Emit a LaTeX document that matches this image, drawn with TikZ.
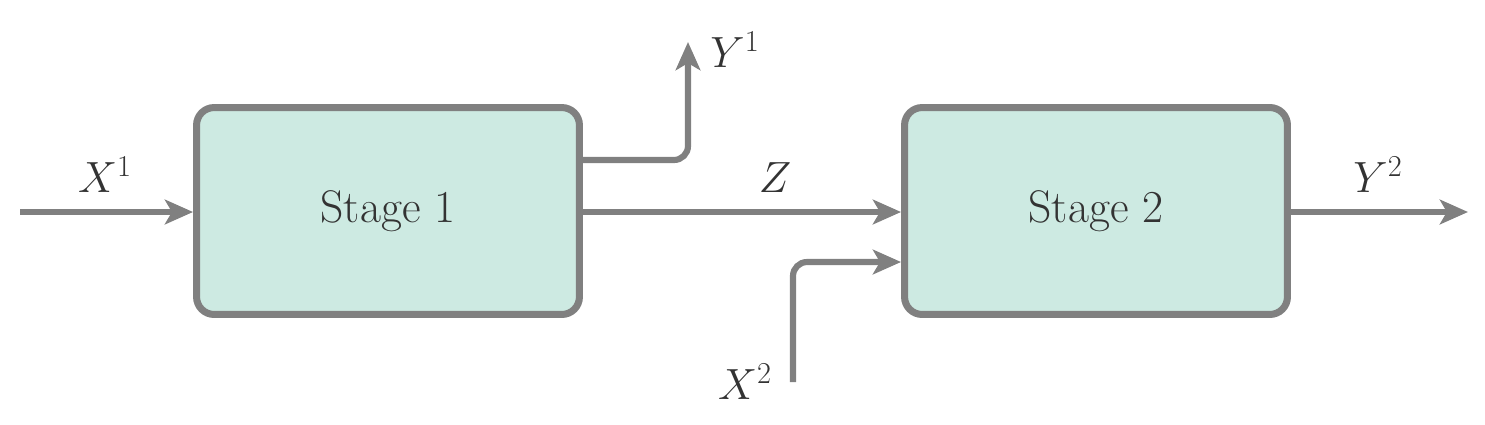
\documentclass[tikz,border=0pt]{standalone}
\usetikzlibrary{arrows.meta}
\definecolor{boxfill}{HTML}{CDEAE2}
\definecolor{ln}{HTML}{808080}
\definecolor{tx}{HTML}{333333}
\begin{document}
\begin{tikzpicture}[x=0.02cm,y=-0.02cm,
  stage/.style={draw=ln,fill=boxfill,line width=4pt,rounded corners=10pt,minimum width=7.8cm-4pt,minimum height=4.28cm-4pt,text=tx,font=\fontsize{26}{30}\selectfont},
  conn/.style={draw=ln,line width=3.5pt,rounded corners=8pt,-{Stealth[length=16pt,width=14pt,inset=4pt]}},
  lab/.style={text=tx,font=\fontsize{24}{28}\selectfont}]
\useasboundingbox (0,0) rectangle (1485,424);
\node[stage] (s1) at (388,211) {Stage 1};
\node[stage] (s2) at (1096,211) {Stage 2};
\coordinate (xin) at (20,212);
\coordinate (y1) at (688,42);
\coordinate (x2) at (793,382);
\coordinate (y2) at (1468,212);
\draw[conn] (xin) -- (s1.west|-xin);
\draw[conn] (s1.east|-0,160) -| (y1);
\draw[conn] (s1.east|-0,212) -- (s2.west|-0,212);
\draw[conn] (x2) |- (s2.west|-0,262);
\draw[conn] (s2.east|-0,212) -- (y2);
\node[lab] (lx1) at (105,175) {$X^1$};
\node[lab] (ly1) at (735,50) {$Y^1$};
\node[lab] (lz) at (775,178) {$Z$};
\node[lab] (lx2) at (745,382) {$X^2$};
\node[lab] (ly2) at (1378,175) {$Y^2$};
\end{tikzpicture}
\end{document}
